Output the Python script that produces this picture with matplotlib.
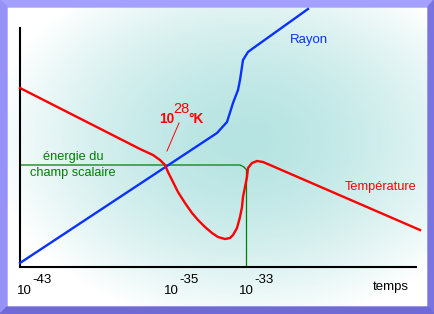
import numpy as np
import matplotlib
matplotlib.use("Agg")
import matplotlib.pyplot as plt
from matplotlib.patches import Polygon

plt.rcParams['font.family'] = ['Liberation Sans', 'DejaVu Sans']

# schematic curves, x = temps (arbitrary units), y = arbitrary
rayon_x = [0, 197, 207, 213, 218, 220, 223, 228, 232, 288]
rayon_y = [4, 134, 145, 164, 177, 187, 207, 215, 218, 258]

temp_x = [0, 120, 133, 140, 145, 148, 153, 158, 165, 172, 178, 185, 192, 198,
          205, 210, 213, 217, 220, 222, 223, 225, 227, 228, 232, 237, 243, 250, 400]
temp_y = [179, 118, 112, 107, 102, 95, 85, 75, 64, 54, 47, 40, 34, 30,
          28, 29, 32, 39, 50, 60, 70, 80, 90, 99, 104, 106, 105, 102, 37]

champ_x = [0, 220, 224, 226.5, 226.5]
champ_y = [102, 102, 100, 97, 0]

tick_labels = ["-43", "-35", "-33"]
tick_label_x = [12, 159, 234]

W, H = 434, 314
fig = plt.figure(figsize=(W / 100, H / 100), dpi=100)

# background gradient + frame
bg = fig.add_axes([0, 0, 1, 1])
bg.set_xlim(0, W)
bg.set_ylim(H, 0)
bg.axis("off")
yy, xx = np.mgrid[0:H, 0:W]
d = np.sqrt(((xx - 245) / 255.0) ** 2 + ((yy - 140) / 185.0) ** 2)
t = np.clip(d, 0, 1) ** 1.6
teal = np.array([182, 228, 226]) / 255.0
img = teal[None, None, :] * (1 - t[..., None]) + t[..., None]
bg.imshow(img, extent=(0, W, H, 0), aspect="auto", interpolation="bilinear")
bg.add_patch(Polygon([(0, 0), (W, 0), (W - 6, 7), (7, 7)], closed=True, color="#a4a0ff"))
bg.add_patch(Polygon([(0, 0), (7, 7), (7, H - 7), (0, H)], closed=True, color="#9692f8"))
bg.add_patch(Polygon([(W, 0), (W, H), (W - 6, H - 7), (W - 6, 7)], closed=True, color="#7a74e2"))
bg.add_patch(Polygon([(0, H), (W, H), (W - 6, H - 7), (7, H - 7)], closed=True, color="#6f6ad8"))

# main axes: 1 unit = 1 pixel
ax = fig.add_axes([20 / W, (H - 267) / H, 396 / W, 239 / H])
ax.patch.set_alpha(0)
ax.set_xlim(0, 396)
ax.set_ylim(0, 239)
for s in ["top", "right"]:
    ax.spines[s].set_visible(False)
for s in ["left", "bottom"]:
    ax.spines[s].set_linewidth(1.5)
    ax.spines[s].set_color("black")
ax.set_xticks([])
ax.set_yticks([])

ax.plot(rayon_x, rayon_y, color="#0a32ff", lw=1.7, clip_on=False, zorder=3)
ax.plot(temp_x, temp_y, color="#ff0000", lw=1.7, clip_on=False, zorder=3)
ax.plot(champ_x, champ_y, color="#008000", lw=0.9, clip_on=False, zorder=2)
ax.plot([147, 159], [116, 144], color="#ff0000", lw=0.7, zorder=2)

ax.text(270, 224, "Rayon", color="#0a32ff", fontsize=9.5, va="baseline")
ax.text(325, 77, "Température", color="#ff0000", fontsize=9.2, va="baseline")
ax.text(53, 107, "énergie du", color="#008000", fontsize=9.2, ha="center", va="baseline")
ax.text(53, 91, "champ scalaire", color="#008000", fontsize=9.2, ha="center", va="baseline")

ax.text(139, 144, "10", color="#ff0000", fontsize=9.8, fontweight="bold", va="baseline")
ax.text(153, 154.5, "28", color="#ff0000", fontsize=10.5, va="baseline")
ax.text(168, 144, "°K", color="#ff0000", fontsize=9.8, fontweight="bold", va="baseline")

for lx, lab in zip(tick_label_x, tick_labels):
    ax.text(lx, -27, "10", fontsize=9.5, ha="right", va="baseline", clip_on=False)
    ax.text(lx, -16, lab, fontsize=9.5, ha="left", va="baseline", clip_on=False)
ax.text(353, -23, "temps", fontsize=9.5, va="baseline", clip_on=False)

fig.savefig("out.png", dpi=100)
